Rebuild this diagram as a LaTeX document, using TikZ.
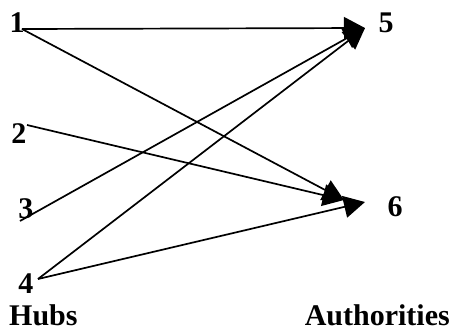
\documentclass[tikz,border=0pt]{standalone}
\usepackage{fontspec}
\setmainfont{Liberation Serif}
\usetikzlibrary{arrows.meta, positioning}

\begin{document}
\begin{tikzpicture}[x=1pt, y=-1pt,
    num/.style={inner sep=0pt, font=\fontsize{30}{30}\selectfont\bfseries},
    edge/.style={line width=1.7pt, -{Triangle[length=21pt, width=22pt]}}]
  \useasboundingbox (0,0) rectangle (451,330);
  % Hubs
  \node[num] (n1) at (17,23) {1};
  \node[num] (n2) at (19,134) {2};
  \node[num] (n3) at (26,209) {3};
  \node[num] (n4) at (26,284) {4};
  % Authorities
  \node[num] (n5) at (386,23) {5};
  \node[num] (n6) at (395,207) {6};
  % Captions
  \node[num, anchor=base west] (hubs) at (9,325) {Hubs};
  \node[num, anchor=base east] (auth) at (450,325) {Authorities};
  % Line ends
  \coordinate (h1) at (22,29);
  \coordinate (h2) at (27,125);
  \coordinate (h3) at (20,221);
  \coordinate (h4) at (38,279);
  \coordinate (a5) at (365,28);
  \coordinate (a6) at (365,202);
  \coordinate (a6b) at (344,200);
  % Edges
  \draw[edge] (h1) -- (a5);
  \draw[edge] (h1) -- (a6b);
  \draw[edge] (h2) -- (a6b);
  \draw[edge] (h3) -- (a5);
  \draw[edge] (h4) -- (a5);
  \draw[edge] (h4) -- (a6);
\end{tikzpicture}
\end{document}
